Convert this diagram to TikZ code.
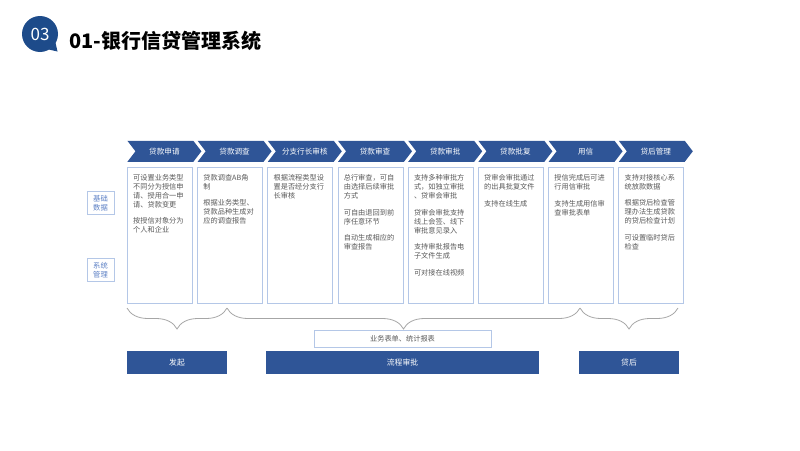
\documentclass[tikz,border=0pt]{standalone}
\usepackage{fontspec}
\setmainfont{Noto Sans CJK SC}
\usetikzlibrary{positioning,shapes.symbols,decorations.pathreplacing}
\definecolor{navy}{HTML}{2F5597}
\definecolor{deepblue}{HTML}{1D4B8A}
\definecolor{paleblue}{HTML}{B4C7E7}
\definecolor{labelblue}{HTML}{5B7FC4}
\definecolor{textgray}{HTML}{595959}
\definecolor{bracegray}{HTML}{A6A6A6}

\begin{document}
\begin{tikzpicture}[x=1pt,y=-1pt,
    chev/.style={signal,signal to=east,signal from=west,fill=navy,text=white,
      minimum width=74pt,minimum height=21pt,inner sep=0pt,
      signal pointer angle=105,font=\fontsize{7.6}{9}\selectfont},
    col/.style={draw=paleblue,line width=0.8pt,minimum width=65pt,
      minimum height=136pt,inner sep=0pt},
    txt/.style={align=left,inner sep=0pt,text=textgray,
      font=\fontsize{7.2}{9}\selectfont},
    side/.style={draw=paleblue,line width=0.8pt,text=labelblue,align=center,
      minimum width=27pt,minimum height=23pt,inner sep=1pt,
      font=\fontsize{7.3}{9.3}\selectfont},
    bar/.style={fill=navy,text=white,minimum height=23pt,inner sep=0pt,
      font=\fontsize{7.8}{9}\selectfont},
    brc/.style={draw=bracegray,line width=0.8pt,
      decorate,decoration={brace,mirror,amplitude=21pt}}]
  \useasboundingbox (0,0) rectangle (800,450);
  % header
  \fill[deepblue] (40,34) circle (18);
  \fill[deepblue] (55.6,43) -- (57.5,51.5) -- (49,49.6) -- cycle;
  \node[text=white,font=\fontsize{17}{17}\selectfont] (num) at (40,34.5) {03};
  \node[anchor=west,inner sep=0pt,font=\fontsize{20}{20}\bfseries] (title) at (69,40.5)
    {01-银行信贷管理系统};
  % columns
  \node[col,anchor=north west] (b1) at (127,167) {};
  \node[col,right=4.4pt of b1] (b2) {};
  \node[col,right=4.4pt of b2] (b3) {};
  \node[col,right=4.4pt of b3] (b4) {};
  \node[col,right=4.4pt of b4] (b5) {};
  \node[col,right=4.4pt of b5] (b6) {};
  \node[col,right=4.4pt of b6] (b7) {};
  \node[col,right=4.4pt of b7] (b8) {};
  \node[chev,above=5pt of b1.north,xshift=4.5pt] (s1) {贷款申请};
  \node[chev,above=5pt of b2.north,xshift=4.5pt] (s2) {贷款调查};
  \node[chev,above=5pt of b3.north,xshift=4.5pt] (s3) {分支行长审核};
  \node[chev,above=5pt of b4.north,xshift=4.5pt] (s4) {贷款审查};
  \node[chev,above=5pt of b5.north,xshift=4.5pt] (s5) {贷款审批};
  \node[chev,above=5pt of b6.north,xshift=4.5pt] (s6) {贷款批复};
  \node[chev,above=5pt of b7.north,xshift=4.5pt] (s7) {用信};
  \node[chev,above=5pt of b8.north,xshift=4.5pt] (s8) {贷后管理};
  \node[txt,below right=7pt and 6pt of b1.north west] (t1)
    {可设置业务类型\\不同分为授信申\\请、授用合一申\\请、贷款变更\\[7.7pt]
     按授信对象分为\\个人和企业};
  \node[txt,below right=7pt and 6pt of b2.north west] (t2)
    {贷款调查AB角\\制\\[7.7pt]根据业务类型、\\贷款品种生成对\\应的调查报告};
  \node[txt,below right=7pt and 6pt of b3.north west] (t3)
    {根据流程类型设\\置是否经分支行\\长审核};
  \node[txt,below right=7pt and 6pt of b4.north west] (t4)
    {总行审查，可自\\由选择后续审批\\方式\\[7.7pt]可自由退回到前\\序任意环节\\[7.7pt]
     自动生成相应的\\审查报告};
  \node[txt,below right=7pt and 6pt of b5.north west] (t5)
    {支持多种审批方\\式，如独立审批\\、贷审会审批\\[7.7pt]贷审会审批支持\\线上会签、线下\\
     审批意见录入\\[7.7pt]支持审批报告电\\子文件生成\\[7.7pt]可对接在线视频};
  \node[txt,below right=7pt and 6pt of b6.north west] (t6)
    {贷审会审批通过\\的出具批复文件\\[7.7pt]支持在线生成};
  \node[txt,below right=7pt and 6pt of b7.north west] (t7)
    {授信完成后可进\\行用信审批\\[7.7pt]支持生成用信审\\查审批表单};
  \node[txt,below right=7pt and 6pt of b8.north west] (t8)
    {支持对接核心系\\统放款数据\\[7.7pt]根据贷后检查管\\理办法生成贷款\\的贷后检查计划\\[7.7pt]
     可设置临时贷后\\检查};
  % left labels
  \node[side] (base) at (100.5,203) {基础\\数据};
  \node[side] (sys) at (100.5,270) {系统\\管理};
  % braces and bottom bars
  \coordinate (k1) at (127,308);
  \coordinate (k2) at (227,308);
  \coordinate (k3) at (580,308);
  \coordinate (k4) at (678,308);
  \draw[brc] (k1) -- (k2);
  \draw[brc] (k2) -- (k3);
  \draw[brc] (k3) -- (k4);
  \node[draw=paleblue,line width=0.8pt,text=textgray,minimum width=177pt,
    minimum height=17pt,inner sep=0pt,font=\fontsize{7.2}{9}\selectfont]
    (rep) at (402.5,338.5) {业务表单、统计报表};
  \node[bar,minimum width=100pt] (start) at (177,362.5) {发起};
  \node[bar,minimum width=273pt] (flow) at (402.5,362.5) {流程审批};
  \node[bar,minimum width=100pt] (after) at (629,362.5) {贷后};
\end{tikzpicture}
\end{document}
